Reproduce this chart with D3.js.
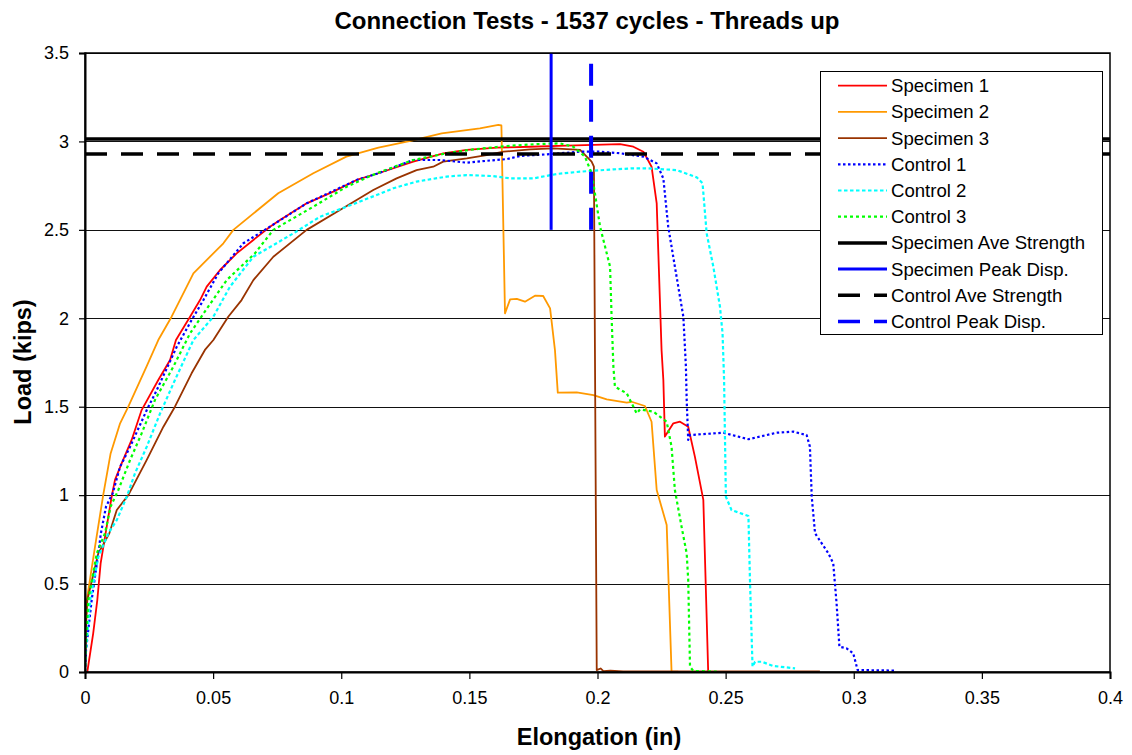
<!DOCTYPE html>
<html>
<head>
<meta charset="utf-8">
<script src="https://cdn.jsdelivr.net/npm/d3@7/dist/d3.min.js"></script>
<style>
body{margin:0;background:#fff;}
text{font-family:Arial,"Liberation Sans",sans-serif;fill:#000;}
</style>
</head>
<body>
<script>
//load vs elongation readings, [elongation (in), load (kips)]
var specimen1 = [[0.0009,0],[0.0032,0.219],[0.0048,0.407],[0.0061,0.614],[0.0104,0.991],[0.0117,1.086],[0.0143,1.18],[0.0182,1.312],[0.0221,1.481],[0.0286,1.651],[0.0332,1.764],[0.0355,1.877],[0.041,2.009],[0.0449,2.103],[0.0475,2.179],[0.0527,2.273],[0.0592,2.367],[0.0657,2.443],[0.0722,2.518],[0.0761,2.556],[0.0865,2.65],[0.0969,2.716],[0.106,2.782],[0.1145,2.82],[0.1281,2.886],[0.1398,2.933],[0.149,2.952],[0.1607,2.965],[0.1737,2.97],[0.188,2.976],[0.1984,2.98],[0.2088,2.985],[0.214,2.97],[0.2179,2.942],[0.2211,2.857],[0.2231,2.65],[0.225,1.82],[0.2257,1.651],[0.2263,1.331],[0.2296,1.406],[0.2322,1.415],[0.2354,1.387],[0.238,1.218],[0.2413,0.973],[0.2432,0],[0.245,0]];
var specimen2 = [[0,0],[0.0003,0.2],[0.0007,0.407],[0.0039,0.708],[0.0071,1.0],[0.010,1.236],[0.0137,1.406],[0.0169,1.5],[0.024,1.726],[0.0286,1.877],[0.0338,2.009],[0.0423,2.254],[0.054,2.424],[0.0579,2.5],[0.0754,2.707],[0.0891,2.82],[0.102,2.914],[0.1145,2.965],[0.1275,3.004],[0.1392,3.046],[0.1541,3.074],[0.1613,3.093],[0.1625,3.09],[0.1639,2.028],[0.1659,2.107],[0.1685,2.11],[0.1717,2.094],[0.1756,2.128],[0.1788,2.126],[0.1815,2.056],[0.1834,1.82],[0.1845,1.58],[0.1919,1.581],[0.1984,1.566],[0.2036,1.542],[0.2114,1.523],[0.2133,1.528],[0.2185,1.504],[0.2211,1.415],[0.2231,1.029],[0.227,0.831],[0.2289,0.002],[0.2315,0.002]];
var specimen3 = [[0,0],[0.0005,0.3],[0.0009,0.407],[0.0052,0.671],[0.0095,0.784],[0.0124,0.916],[0.0169,1.0],[0.0241,1.199],[0.0306,1.387],[0.0351,1.5],[0.0416,1.689],[0.0468,1.821],[0.0501,1.877],[0.0559,2.009],[0.0611,2.103],[0.0657,2.216],[0.0735,2.348],[0.0865,2.5],[0.0995,2.612],[0.1125,2.725],[0.1216,2.791],[0.1294,2.838],[0.1359,2.857],[0.1398,2.886],[0.149,2.904],[0.1567,2.923],[0.1633,2.942],[0.1737,2.955],[0.1828,2.961],[0.1932,2.952],[0.1977,2.886],[0.1986,2.857],[0.199,1.821],[0.1997,0.011],[0.2012,0.02],[0.2023,0.005],[0.205,0.008],[0.21,0.003],[0.2868,0.003]];
var control1 = [[0,0],[0.0004,0.124],[0.0026,0.407],[0.0052,0.671],[0.0062,0.784],[0.0082,0.935],[0.0108,1.01],[0.0137,1.161],[0.0176,1.274],[0.0241,1.481],[0.028,1.594],[0.0358,1.839],[0.0416,1.99],[0.0462,2.103],[0.052,2.254],[0.0618,2.424],[0.0722,2.518],[0.0865,2.65],[0.106,2.782],[0.1145,2.82],[0.1281,2.895],[0.1385,2.895],[0.149,2.88],[0.158,2.892],[0.1646,2.9],[0.1698,2.918],[0.1802,2.927],[0.1932,2.942],[0.201,2.942],[0.2088,2.933],[0.2179,2.914],[0.2231,2.876],[0.2257,2.79],[0.2276,2.518],[0.2302,2.292],[0.2335,2.009],[0.2345,1.727],[0.2348,1.538],[0.2354,1.312],[0.2361,1.34],[0.2491,1.353],[0.2589,1.316],[0.2699,1.353],[0.2764,1.359],[0.2816,1.34],[0.2829,1.274],[0.2836,0.991],[0.2849,0.784],[0.2901,0.671],[0.292,0.614],[0.2933,0.388],[0.2944,0.143],[0.2972,0.134],[0.2998,0.106],[0.3015,0.011],[0.3161,0.008]];
var control2 = [[0,0],[0.0004,0.124],[0.002,0.407],[0.0052,0.65],[0.0091,0.784],[0.0124,0.859],[0.0163,0.991],[0.0195,1.123],[0.0241,1.274],[0.0293,1.462],[0.0351,1.651],[0.0423,1.877],[0.0501,2.009],[0.0566,2.179],[0.0657,2.348],[0.0813,2.48],[0.0917,2.574],[0.1021,2.631],[0.1138,2.697],[0.1203,2.735],[0.1294,2.773],[0.1411,2.801],[0.149,2.81],[0.1593,2.804],[0.1659,2.791],[0.175,2.791],[0.1841,2.816],[0.1932,2.829],[0.2062,2.842],[0.214,2.848],[0.2192,2.848],[0.2309,2.838],[0.2387,2.797],[0.241,2.763],[0.2426,2.48],[0.2452,2.292],[0.2478,2.065],[0.2488,1.915],[0.2494,1.651],[0.2501,0.991],[0.2523,0.916],[0.2589,0.882],[0.2595,0.52],[0.2605,0.03],[0.2615,0.058],[0.2641,0.058],[0.2686,0.034],[0.2771,0.021]];
var control3 = [[0,0],[0.0002,0.124],[0.0013,0.407],[0.0046,0.671],[0.0078,0.784],[0.01,0.935],[0.013,1.029],[0.0176,1.199],[0.0221,1.349],[0.0273,1.538],[0.0345,1.727],[0.041,1.915],[0.0481,2.066],[0.0553,2.216],[0.0663,2.367],[0.0735,2.5],[0.0891,2.631],[0.1021,2.744],[0.1138,2.82],[0.1281,2.895],[0.1411,2.933],[0.1515,2.955],[0.1646,2.974],[0.1763,2.985],[0.1854,2.989],[0.1906,2.97],[0.1951,2.914],[0.1977,2.82],[0.1984,2.763],[0.201,2.518],[0.2049,2.292],[0.2055,2.009],[0.2062,1.727],[0.2068,1.613],[0.2114,1.576],[0.2153,1.462],[0.2166,1.485],[0.2218,1.472],[0.227,1.415],[0.2289,1.274],[0.2302,1.029],[0.2328,0.822],[0.2348,0.671],[0.2354,0.52],[0.2361,0.03],[0.2374,0.006],[0.2465,0.002]];

//average strength (kips) and peak displacement (in)
var specimenAve = 3.014,
    controlAve = 2.929;
var specimenPeak = 0.1819,
    controlPeak = 0.1975;
var peakSpan = [2.5, 3.5];

//axes
var xTicks = [0, 0.05, 0.1, 0.15, 0.2, 0.25, 0.3, 0.35, 0.4];
var xTickLabels = ["0", "0.05", "0.1", "0.15", "0.2", "0.25", "0.3", "0.35", "0.4"];
var yTicks = [0, 0.5, 1, 1.5, 2, 2.5, 3, 3.5];
var yTickLabels = ["0", "0.5", "1", "1.5", "2", "2.5", "3", "3.5"];

var seriesNames = ["Specimen 1", "Specimen 2", "Specimen 3", "Control 1", "Control 2", "Control 3",
    "Specimen Ave Strength", "Specimen Peak Disp.", "Control Ave Strength", "Control Peak Disp."];

window.onload = function(){
    var width = 1132,
        height = 755;
    var left = 85, top = 53, right = 1110, bottom = 672;

    var svg = d3.select("body")
        .append("svg")
        .attr("width", width)
        .attr("height", height);

    var x = d3.scaleLinear().domain([0, 0.4]).range([left, right]);
    var y = d3.scaleLinear().domain([0, 3.5]).range([bottom, top]);

    //line styles in legend order
    var styles = [
        {color: "#ff0000", w: 1.8, dash: null},
        {color: "#ff9900", w: 1.8, dash: null},
        {color: "#993300", w: 1.8, dash: null},
        {color: "#0000ff", w: 2.2, dash: "2.5,2.5"},
        {color: "#00ffff", w: 2.2, dash: "3.5,2.5"},
        {color: "#00ff00", w: 2.2, dash: "3,3"},
        {color: "#000000", w: 3.5, dash: null},
        {color: "#0000ff", w: 3, dash: null},
        {color: "#000000", w: 3.5, dash: "22,14"},
        {color: "#0000ff", w: 4, dash: "22,14"}
    ];

    //horizontal gridlines
    svg.append("g")
        .selectAll("line")
        .data(yTicks)
        .enter()
        .append("line")
        .attr("x1", left)
        .attr("x2", right)
        .attr("y1", function(d){ return Math.round(y(d)) + 0.5; })
        .attr("y2", function(d){ return Math.round(y(d)) + 0.5; })
        .attr("stroke", "#111")
        .attr("stroke-width", 1);

    svg.append("clipPath")
        .attr("id", "plotClip")
        .append("rect")
        .attr("x", left).attr("y", top - 2)
        .attr("width", right - left).attr("height", bottom - top + 2);

    var plot = svg.append("g").attr("clip-path", "url(#plotClip)");

    var line = d3.line()
        .x(function(d){ return x(d[0]); })
        .y(function(d){ return y(d[1]); });

    //test curves
    var curves = [specimen1, specimen2, specimen3, control1, control2, control3];
    curves.forEach(function(c, i){
        plot.append("path")
            .datum(c)
            .attr("d", line)
            .attr("fill", "none")
            .attr("stroke", styles[i].color)
            .attr("stroke-width", styles[i].w)
            .attr("stroke-dasharray", styles[i].dash)
            .attr("stroke-linejoin", "round");
    });

    //average strength and peak displacement lines
    var refs = [
        [[0, specimenAve], [0.4, specimenAve]],
        [[specimenPeak, peakSpan[0]], [specimenPeak, peakSpan[1]]],
        [[0, controlAve], [0.4, controlAve]],
        [[controlPeak, peakSpan[0]], [controlPeak, peakSpan[1]]]
    ];
    refs.forEach(function(r, i){
        var s = styles[6 + i];
        plot.append("path")
            .datum(r)
            .attr("d", line)
            .attr("fill", "none")
            .attr("stroke", s.color)
            .attr("stroke-width", s.w)
            .attr("stroke-dasharray", s.dash);
    });

    //axes
    var yAxis = svg.append("g")
        .attr("transform", "translate(" + left + ",0)")
        .call(d3.axisLeft(y).tickValues(yTicks).tickSize(6).tickPadding(10)
            .tickFormat(function(d, i){ return yTickLabels[i]; }));
    var xAxis = svg.append("g")
        .attr("transform", "translate(0," + bottom + ")")
        .call(d3.axisBottom(x).tickValues(xTicks).tickSize(7).tickPadding(12)
            .tickFormat(function(d, i){ return xTickLabels[i]; }));
    [xAxis, yAxis].forEach(function(a){
        a.select(".domain").attr("stroke", "#000").attr("stroke-width", 2);
        a.selectAll(".tick line").attr("stroke", "#000").attr("stroke-width", 1.2);
        a.selectAll(".tick text")
            .attr("fill", "#000")
            .style("font-size", "18px")
            .style("font-family", "Arial, 'Liberation Sans', sans-serif");
    });

    //plot frame
    svg.append("rect")
        .attr("x", left).attr("y", top)
        .attr("width", right - left).attr("height", bottom - top)
        .attr("fill", "none")
        .attr("stroke", "#000")
        .attr("stroke-width", 1.5);

    //legend
    var lg = svg.append("g").attr("class", "legend");
    lg.append("rect")
        .attr("x", 820.5).attr("y", 71.5)
        .attr("width", 282).attr("height", 263)
        .attr("fill", "#fff")
        .attr("stroke", "#000")
        .attr("stroke-width", 1);
    var rows = lg.selectAll(".row")
        .data(seriesNames)
        .enter()
        .append("g")
        .attr("class", "row")
        .attr("transform", function(d, i){ return "translate(0," + (85.7 + i * 26.2) + ")"; });
    rows.append("line")
        .attr("x1", 838).attr("x2", 887)
        .attr("y1", 0).attr("y2", 0)
        .attr("stroke", function(d, i){ return styles[i].color; })
        .attr("stroke-width", function(d, i){ return Math.min(styles[i].w, 3.5); })
        .attr("stroke-dasharray", function(d, i){ return styles[i].dash; });
    rows.append("text")
        .attr("x", 891)
        .attr("y", 6.5)
        .style("font-size", "18.6px")
        .text(function(d){ return d; });

    //titles
    svg.append("text")
        .attr("x", 587)
        .attr("y", 29)
        .attr("text-anchor", "middle")
        .style("font-size", "24px")
        .style("font-weight", "bold")
        .text("Connection Tests - 1537 cycles - Threads up");
    svg.append("text")
        .attr("x", 599)
        .attr("y", 745)
        .attr("text-anchor", "middle")
        .style("font-size", "23.5px")
        .style("font-weight", "bold")
        .text("Elongation (in)");
    svg.append("text")
        .attr("transform", "translate(31,362) rotate(-90)")
        .attr("text-anchor", "middle")
        .style("font-size", "23.5px")
        .style("font-weight", "bold")
        .text("Load (kips)");
};
</script>
</body>
</html>
